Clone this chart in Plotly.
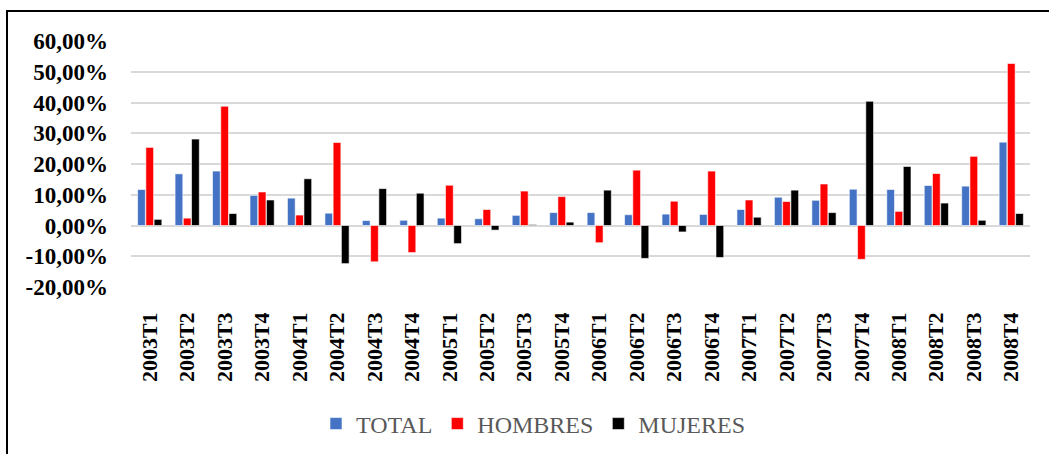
import plotly.graph_objects as go

categories = ["2003T1", "2003T2", "2003T3", "2003T4", "2004T1", "2004T2", "2004T3", "2004T4",
              "2005T1", "2005T2", "2005T3", "2005T4", "2006T1", "2006T2", "2006T3", "2006T4",
              "2007T1", "2007T2", "2007T3", "2007T4", "2008T1", "2008T2", "2008T3", "2008T4"]

total = [11.7, 16.8, 17.7, 9.8, 8.9, 4.0, 1.6, 1.7,
         2.4, 2.2, 3.3, 4.2, 4.2, 3.5, 3.7, 3.6,
         5.2, 9.2, 8.2, 11.8, 11.7, 13.0, 12.8, 27.1]
hombres = [25.4, 2.4, 38.8, 10.9, 3.4, 27.0, -11.8, -8.8,
           13.1, 5.2, 11.2, 9.4, -5.6, 18.0, 7.9, 17.7,
           8.3, 7.8, 13.5, -11.0, 4.6, 16.9, 22.5, 52.7]
mujeres = [2.0, 28.1, 3.9, 8.3, 15.2, -12.4, 12.0, 10.5,
           -5.9, -1.5, 0.3, 1.1, 11.5, -10.7, -2.1, -10.4,
           2.7, 11.5, 4.2, 40.4, 19.2, 7.3, 1.7, 3.9]

y_tickvals = [-20, -10, 0, 10, 20, 30, 40, 50, 60]
y_ticktext = ["-20,00%", "-10,00%", "0,00%", "10,00%", "20,00%", "30,00%", "40,00%", "50,00%", "60,00%"]

series = [("TOTAL", total, "#4472C4"), ("HOMBRES", hombres, "#FF0000"), ("MUJERES", mujeres, "#000000")]

fig = go.Figure()
for name, vals, color in series:
    fig.add_trace(go.Bar(x=categories, y=vals, name=name,
                         marker=dict(color=color, line=dict(color="white", width=0.6))))

W, H = 1049, 454
L, R, T, B = 131, 19, 41, 167
pw, ph = W - L - R, H - T - B

fig.update_layout(
    width=W, height=H,
    margin=dict(l=L, r=R, t=T, b=B, autoexpand=False),
    paper_bgcolor="white", plot_bgcolor="white",
    barmode="group", bargap=0.34, bargroupgap=0.06,
    font=dict(family="Liberation Serif", color="black"),
    showlegend=True,
    legend=dict(orientation="h", x=(316 - L) / pw, xanchor="left",
                y=(H - B - 424) / ph, yanchor="middle",
                font=dict(family="Liberation Serif", size=24, color="#595959"),
                itemwidth=30, traceorder="normal"),
    xaxis=dict(type="category", tickangle=-90, showgrid=False, zeroline=False,
               showline=False, ticks="", ticklabelstandoff=20,
               tickfont=dict(family="Liberation Serif", size=22, color="black", weight="bold")),
    yaxis=dict(range=[-20, 60], tickvals=y_tickvals, ticktext=y_ticktext,
               showgrid=True, gridcolor="#D9D9D9", gridwidth=1.5,
               zeroline=True, zerolinecolor="#D9D9D9", zerolinewidth=1.5,
               showline=False, ticks="", ticklabelstandoff=22,
               tickfont=dict(family="Liberation Serif", size=23, color="black", weight="bold")),
    shapes=[dict(type="rect", xref="paper", yref="paper",
                 x0=(7 - L) / pw, x1=(1060 - L) / pw,
                 y0=(H - B - 470) / ph, y1=(H - B - 11) / ph,
                 line=dict(color="black", width=2), fillcolor="rgba(0,0,0,0)", layer="below")],
)

fig.write_html("out.html", config={"displayModeBar": False},
               post_script="document.body.style.margin='0';document.body.style.overflow='hidden';")
